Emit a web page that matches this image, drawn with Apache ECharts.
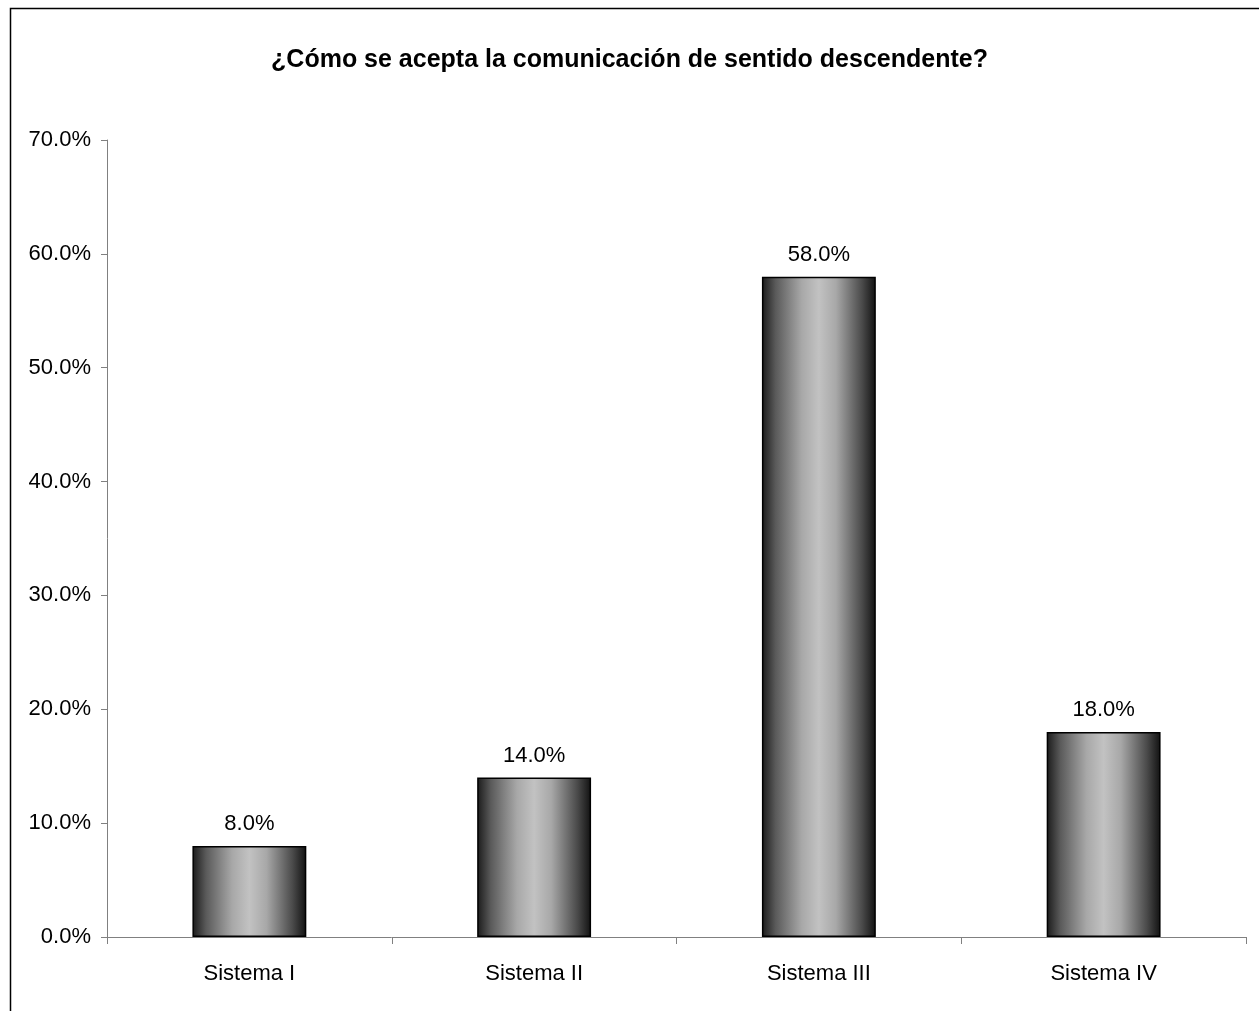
<!DOCTYPE html>
<html><head><meta charset="utf-8">
<script src="https://cdn.jsdelivr.net/npm/echarts@6/dist/echarts.min.js"></script>
<style>html,body{margin:0;padding:0;background:#fff}#c{width:1259px;height:1011px}</style>
</head><body><div id="c"></div>
<script>
const titleText = '¿Cómo se acepta la comunicación de sentido descendente?';
const categories = ['Sistema I', 'Sistema II', 'Sistema III', 'Sistema IV'];
const values = [0.08, 0.14, 0.58, 0.18];

const chart = echarts.init(document.getElementById('c'));
const barGrad = new echarts.graphic.LinearGradient(0, 0, 1, 0, [
  {offset: 0, color: '#1a1a1a'},
  {offset: 0.12, color: '#5a5a5a'},
  {offset: 0.35, color: '#a8a8a8'},
  {offset: 0.5, color: '#c2c2c2'},
  {offset: 0.65, color: '#a8a8a8'},
  {offset: 0.88, color: '#4a4a4a'},
  {offset: 1, color: '#111111'}
]);
chart.setOption({
  animation: false,
  backgroundColor: '#fff',
  title: {
    text: titleText, left: 'center', top: 43,
    textStyle: {fontFamily: 'Liberation Sans', fontSize: 25, fontWeight: 'bold', color: '#000'}
  },
  graphic: [{
    type: 'rect', left: 8, top: 6, silent: true,
    shape: {x: 0, y: 0, width: 1400, height: 1200},
    style: {fill: 'none', stroke: '#000', lineWidth: 1.5}
  }],
  grid: {left: 107, right: 13, top: 140, bottom: 74},
  xAxis: {
    type: 'category', data: categories,
    axisLine: {lineStyle: {color: '#808080', width: 1}},
    axisTick: {show: true, length: 7, lineStyle: {color: '#808080'}},
    axisLabel: {margin: 26, fontFamily: 'Liberation Sans', fontSize: 22, color: '#000'}
  },
  yAxis: {
    type: 'value', min: 0, max: 0.7, interval: 0.1,
    splitLine: {show: false},
    axisLine: {show: true, lineStyle: {color: '#808080', width: 1}},
    axisTick: {show: true, length: 6, lineStyle: {color: '#808080'}},
    axisLabel: {margin: 16, fontFamily: 'Liberation Sans', fontSize: 22, color: '#000',
      formatter: v => (v * 100).toFixed(1) + '%'}
  },
  series: [{
    type: 'bar', data: values, barWidth: '40%',
    itemStyle: {color: barGrad, borderColor: '#000', borderWidth: 1.5},
    label: {show: true, position: 'top', distance: 11, fontFamily: 'Liberation Sans', fontSize: 22, color: '#000',
      formatter: p => (p.value * 100).toFixed(1) + '%'}
  }]
});
</script></body></html>
